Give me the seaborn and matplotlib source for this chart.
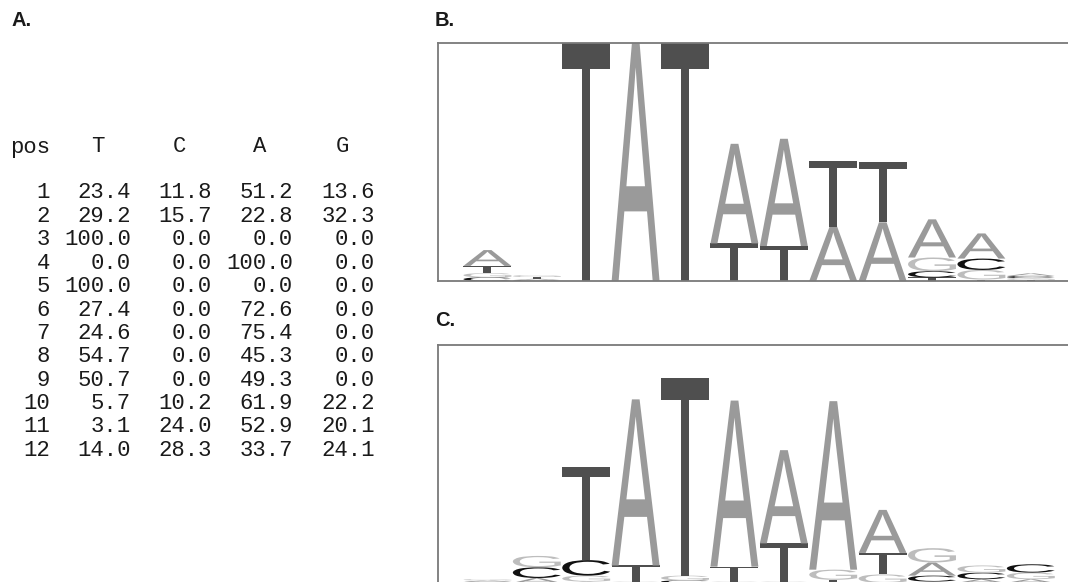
import matplotlib
matplotlib.use("Agg")
import matplotlib.pyplot as plt
import matplotlib.transforms as mtransforms
import numpy as np
import seaborn as sns
from matplotlib.font_manager import FontProperties
from matplotlib.patches import PathPatch
from matplotlib.textpath import TextPath

# ---- panel A: base composition table (%) ----
positions = list(range(1, 13))
pct_T = [23.4, 29.2, 100.0, 0.0, 100.0, 27.4, 24.6, 54.7, 50.7, 5.7, 3.1, 14.0]
pct_C = [11.8, 15.7, 0.0, 0.0, 0.0, 0.0, 0.0, 0.0, 0.0, 10.2, 24.0, 28.3]
pct_A = [51.2, 22.8, 0.0, 100.0, 0.0, 72.6, 75.4, 45.3, 49.3, 61.9, 52.9, 33.7]
pct_G = [13.6, 32.3, 0.0, 0.0, 0.0, 0.0, 0.0, 0.0, 0.0, 22.2, 20.1, 24.1]

# ---- panel C: letter heights (bits) ----
bits_c_T = [0.01, 0.01, 0.78, 0.135, 1.65, 0.125, 0.32, 0.025, 0.18, 0.02, 0.01, 0.01]
bits_c_C = [0.01, 0.09, 0.13, 0.01, 0.02, 0.01, 0.01, 0.01, 0.01, 0.05, 0.055, 0.07]
bits_c_A = [0.01, 0.04, 0.02, 1.39, 0.01, 1.39, 0.78, 1.41, 0.36, 0.11, 0.03, 0.03]
bits_c_G = [0.01, 0.095, 0.05, 0.01, 0.04, 0.01, 0.01, 0.085, 0.07, 0.12, 0.06, 0.055]

BASES = ["T", "C", "A", "G"]
BASE_COLORS = {
    "T": "#4f4f4f",  # dark grey
    "C": "#111111",  # black
    "A": "#9a9a9a",  # mid grey
    "G": "#bdbdbd",  # light grey
}

W, H = 1068, 582
sns.set_style("white")
fig = plt.figure(figsize=(W / 100, H / 100), dpi=100)

LOGO_FONT = FontProperties(family="Liberation Sans")


def _draw_letter(ax, ch, x, y0, h, color):
    tp = TextPath((0, 0), ch, size=1, prop=LOGO_FONT)
    bb = tp.get_extents()
    w = 0.97
    tr = (
        mtransforms.Affine2D()
        .translate(-bb.x0, -bb.y0)
        .scale(w / bb.width, h / bb.height)
        .translate(x - w / 2, y0)
    )
    ax.add_patch(PathPatch(tr.transform_path(tp), facecolor=color, edgecolor="none"))


def _logo(ax, heights):
    # heights: (n_pos, 4) in bits, columns ordered as BASES
    for i, pos in enumerate(positions):
        order = np.argsort(heights[i])
        y = 0.0
        for k in order:
            h = heights[i][k]
            if h <= 0.004:
                continue
            _draw_letter(ax, BASES[k], pos, y, h, BASE_COLORS[BASES[k]])
            y += h
    ax.set_xlim(0, 13)
    ax.set_ylim(0, 2)
    ax.set_xticks([])
    ax.set_yticks([])
    for side in ["left", "top", "bottom", "right"]:
        ax.spines[side].set_color("#7a7a7a")
        ax.spines[side].set_linewidth(1.3)


# information content from the frequency table
freqs = np.array([pct_T, pct_C, pct_A, pct_G]).T / 100.0
entropy = -np.sum(freqs * np.log2(np.clip(freqs, 1e-12, 1)), axis=1)
heights_b = freqs * (2 - entropy)[:, None]
heights_c = np.array([bits_c_T, bits_c_C, bits_c_A, bits_c_G]).T

col_px = 49.4
ax_left = 438
ax_w = 13 * col_px

ax_b = fig.add_axes([ax_left / W, 1 - 281 / H, ax_w / W, 238 / H])
_logo(ax_b, heights_b)

ax_c = fig.add_axes([ax_left / W, 1 - 584 / H, ax_w / W, 239 / H])
_logo(ax_c, heights_c)

# ---- table + panel labels in pixel coordinates ----
ax_t = fig.add_axes([0, 0, 1, 1], zorder=-1)
ax_t.set_xlim(0, W)
ax_t.set_ylim(H, 0)
ax_t.axis("off")

mono = dict(family="Liberation Mono", fontsize=16, color="#1a1a1a", va="center")
col_right = [131, 212, 293, 375]
ax_t.text(50, 147, "pos", ha="right", **mono)
for xr, base in zip(col_right, BASES):
    ax_t.text(xr - 33, 147, base, ha="center", **mono)

for r, pos in enumerate(positions):
    y = 193 + r * 23.4
    ax_t.text(50, y, str(pos), ha="right", **mono)
    row = [pct_T[r], pct_C[r], pct_A[r], pct_G[r]]
    for xr, v in zip(col_right, row):
        ax_t.text(xr, y, f"{v:.1f}", ha="right", **mono)

lab = dict(family="Liberation Sans", fontweight="bold", fontsize=14.5, color="#1a1a1a",
           va="center", ha="left")
ax_t.text(11, 21, "A.", **lab)
ax_t.text(435, 20, "B.", **lab)
ax_t.text(435, 321, "C.", **lab)

fig.savefig("out.png", dpi=100)
